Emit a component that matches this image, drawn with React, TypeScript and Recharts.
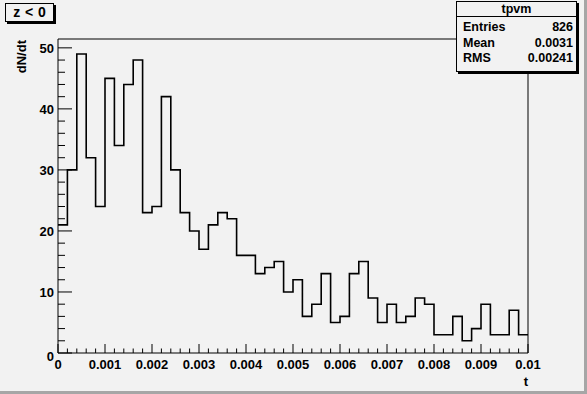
import { LineChart, Line, XAxis, YAxis, ReferenceArea } from 'recharts';

// histogram "tpvm", 50 bins over t = 0 .. 0.01
const binWidth = 0.0002;
const counts = [
  21, 30, 49, 32, 24, 45, 34, 44, 48, 23,
  24, 42, 30, 23, 20, 17, 21, 23, 22, 16,
  16, 13, 14, 15, 10, 12, 6, 8, 13, 5,
  6, 13, 15, 9, 5, 8, 5, 6, 9, 8,
  3, 3, 6, 2, 4, 8, 3, 3, 7, 3,
];
const xMajorLabels = ['0', '0.001', '0.002', '0.003', '0.004', '0.005', '0.006', '0.007', '0.008', '0.009', '0.01'];
const yMajorLabels = [0, 10, 20, 30, 40, 50];
const yMinorStep = 2;
const yMax = 51.45;
const title = 'z < 0';
const statsName = 'tpvm';
const statsRows = [
  ['Entries', '826'],
  ['Mean', '0.0031'],
  ['RMS', '0.00241'],
];

const font = "'Liberation Sans', Arial, Helvetica, sans-serif";
const bg = '#f2f2f2';

// last point repeats the last bin so the step closes at the right edge
const histData = [
  ...counts.map((n, i) => ({ t: i * binWidth, n })),
  { t: counts.length * binWidth, n: counts[counts.length - 1] },
];

const xTicks = Array.from({ length: counts.length + 1 }, (_, i) => i * binWidth);
const yTicks = Array.from({ length: yMajorLabels[yMajorLabels.length - 1] / yMinorStep + 1 }, (_, i) => i * yMinorStep);

const X_MARGIN = 7;
const Y_MARGIN = 4;

function XTick(props: any) {
  const { x, y, payload } = props;
  const i = Math.round(payload.value / binWidth);
  const major = i % 5 === 0;
  const axisY = y - X_MARGIN;
  return (
    <g>
      <line x1={x} x2={x} y1={axisY} y2={axisY - (major ? 9 : 4.5)} stroke="#000" strokeWidth={1} />
      {major && (
        <text x={x} y={y} dy="0.72em" textAnchor="middle" fontSize={13} fontWeight="bold" fontFamily={font} fill="#000">
          {xMajorLabels[i / 5]}
        </text>
      )}
    </g>
  );
}

function YTick(props: any) {
  const { x, y, payload } = props;
  const v = payload.value;
  const major = v % 10 === 0;
  const axisX = x + Y_MARGIN;
  return (
    <g>
      <line x1={axisX} x2={axisX + (major ? 14 : 7)} y1={y} y2={y} stroke="#000" strokeWidth={1} />
      {major && (
        <text x={x} y={y} dy={v === 0 ? '0.6em' : '0.36em'} textAnchor="end" fontSize={13} fontWeight="bold" fontFamily={font} fill="#000">
          {v}
        </text>
      )}
    </g>
  );
}

export default function App() {
  return (
    <div style={{ position: 'absolute', left: 0, top: 0, width: 587, height: 394, background: bg, fontFamily: font, overflow: 'hidden' }}>
      <LineChart width={587} height={394} data={histData} margin={{ top: 39, right: 59, bottom: 0, left: 0 }}>
        <XAxis
          dataKey="t"
          type="number"
          domain={[0, counts.length * binWidth]}
          ticks={xTicks}
          interval={0}
          height={41}
          axisLine={false}
          tickLine={false}
          tickSize={0}
          tickMargin={X_MARGIN}
          tick={<XTick />}
          allowDataOverflow
        />
        <YAxis
          type="number"
          domain={[0, yMax]}
          ticks={yTicks}
          interval={0}
          width={58}
          axisLine={false}
          tickLine={false}
          tickSize={0}
          tickMargin={Y_MARGIN}
          tick={<YTick />}
          allowDataOverflow
        />
        <ReferenceArea x1={0} x2={counts.length * binWidth} y1={0} y2={yMax} fill="none" stroke="#000" strokeWidth={1} ifOverflow="visible" />
        <Line type="stepAfter" dataKey="n" stroke="#000" strokeWidth={1.6} dot={false} activeDot={false} isAnimationActive={false} />
      </LineChart>

      <svg width={587} height={394} style={{ position: 'absolute', left: 0, top: 0, pointerEvents: 'none' }}>
        <text transform="translate(26,40) rotate(-90)" textAnchor="end" fontSize={13} fontWeight="bold" fontFamily={font}>
          dN/dt
        </text>
        <text x={528} y={386} textAnchor="end" fontSize={13} fontWeight="bold" fontFamily={font}>
          t
        </text>
      </svg>

      {/* title pave */}
      <div
        style={{
          position: 'absolute', left: 5, top: 3, width: 47, height: 17,
          border: '1px solid #000', boxShadow: '2px 2px 0 #000', background: bg,
          fontSize: 14, fontWeight: 'bold', textAlign: 'center', lineHeight: '17px', wordSpacing: 1,
        }}
      >
        {title}
      </div>

      {/* stats box */}
      <div
        style={{
          position: 'absolute', left: 456, top: 1, width: 119, height: 69,
          border: '1px solid #000', boxShadow: '2px 2px 0 #000', background: bg,
          fontSize: 12.5, fontWeight: 'bold',
        }}
      >
        <div style={{ height: 14, lineHeight: '14px', textAlign: 'center', borderBottom: '1px solid #000' }}>{statsName}</div>
        <div style={{ paddingTop: 3 }}>
          {statsRows.map(([k, v]) => (
            <div key={k} style={{ display: 'flex', justifyContent: 'space-between', padding: '0 3px 0 6px', height: 15.5, lineHeight: '15.5px' }}>
              <span>{k}</span>
              <span>{v}</span>
            </div>
          ))}
        </div>
      </div>

      {/* canvas bevel */}
      <div style={{ position: 'absolute', left: 584, top: 0, width: 3, height: 394, background: '#a6a6a6' }} />
      <div style={{ position: 'absolute', left: 0, top: 391, width: 587, height: 3, background: '#a6a6a6' }} />
    </div>
  );
}
